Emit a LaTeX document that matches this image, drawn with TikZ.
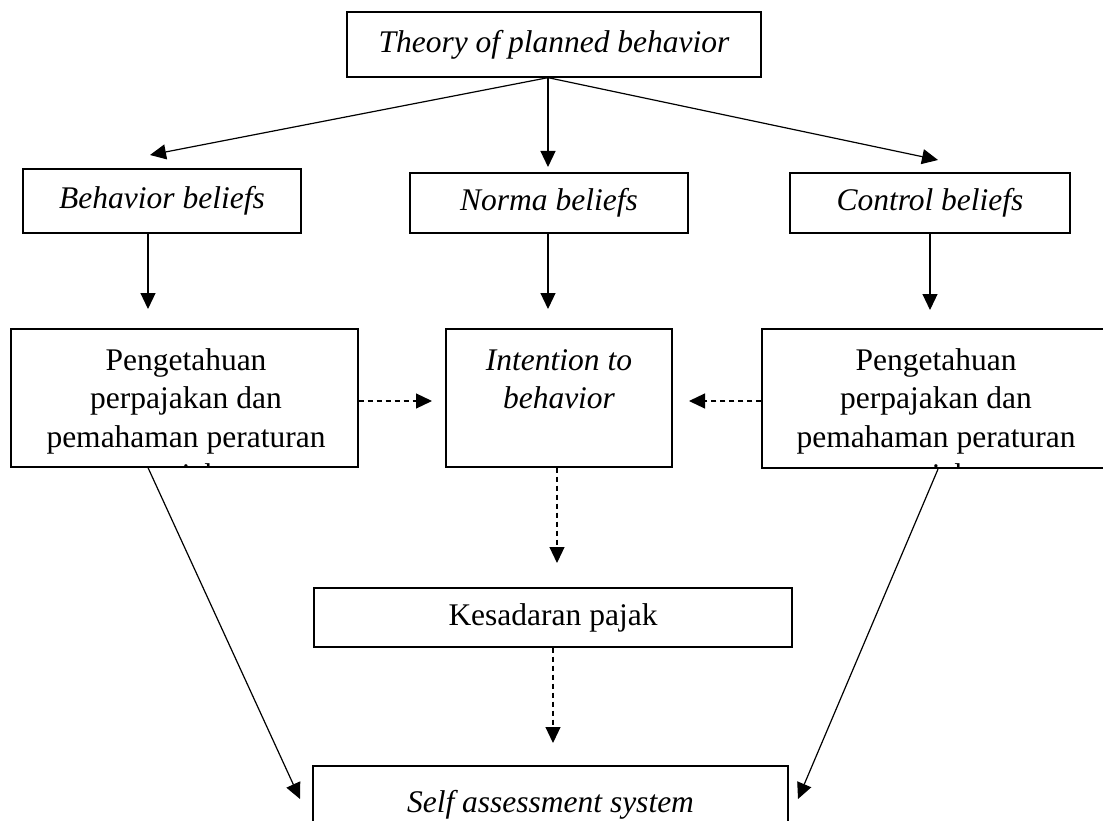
\documentclass[tikz,border=0pt]{standalone}
\usepackage{fontspec}
\setmainfont{Liberation Serif}
\usetikzlibrary{arrows.meta}
\begin{document}
\begin{tikzpicture}[x=1pt,y=-1pt,
  lbl/.style={inner sep=0pt, font=\fontsize{31.5}{38.5}\selectfont, align=center},
  ilbl/.style={lbl, font=\fontsize{31.5}{38.5}\selectfont\itshape},
  box/.style={draw, line width=1.3pt, inner sep=0pt, rectangle},
  arr/.style={line width=1.2pt, -{Triangle[length=16pt,width=15pt]}},
  darr/.style={arr, dash pattern=on 5pt off 4pt}]
\clip (0,0) rectangle (1103,821);
% boxes
\node[box, ilbl, minimum width=414pt, minimum height=65pt] (top) at (554,44.5) {Theory of planned behavior};
\node[box, ilbl, minimum width=278pt, minimum height=64pt] (bb) at (162,201) {Behavior beliefs};
\node[box, ilbl, minimum width=278pt, minimum height=60pt] (nb) at (549,203) {Norma beliefs};
\node[box, ilbl, minimum width=280pt, minimum height=60pt] (cb) at (930,203) {Control beliefs};
\node[box, minimum width=347pt, minimum height=138pt] (pl) at (184.5,398) {};
\node[box, minimum width=226pt, minimum height=138pt] (ib) at (559,398) {};
\node[box, minimum width=348pt, minimum height=139pt] (pr) at (936,398.5) {};
\node[box, lbl, minimum width=478pt, minimum height=59pt] (kp) at (553,617.5) {Kesadaran pajak};
\node[box, ilbl, minimum width=475pt, minimum height=78pt] (sa) at (550.5,805) {Self assessment system};
% texts of tall boxes
\begin{scope}
\clip (pl.south west) rectangle (pl.north east);
\node[lbl, anchor=north] (plt) at (186,348) {Pengetahuan\\perpajakan dan\\pemahaman peraturan\\pajak};
\end{scope}
\begin{scope}
\clip (pr.south west) rectangle (pr.north east);
\node[lbl, anchor=north] (prt) at (936,348) {Pengetahuan\\perpajakan dan\\pemahaman peraturan\\pajak};
\end{scope}
\node[ilbl, anchor=north] (ibt) at (559,349) {Intention to\\behavior};
% arrow tip coordinates
\coordinate (tb) at (150,155);
\coordinate (tn) at (548,167);
\coordinate (tc) at (938,160);
\coordinate (pbl) at (148,309);
\coordinate (pbm) at (548,309);
\coordinate (pbr) at (930,310);
\coordinate (dl) at (432,401);
\coordinate (dr) at (689,401);
\coordinate (dk) at (557,563);
\coordinate (ds) at (553,743);
\coordinate (sl) at (300,799);
\coordinate (sr) at (798,799);
% connectors
\draw[arr] ([xshift=-6pt]top.south) -- (tb);
\draw[arr] ([xshift=-6pt]top.south) -- (tn);
\draw[arr] ([xshift=-6pt]top.south) -- (tc);
\draw[arr] ([xshift=-14pt]bb.south) -- (pbl);
\draw[arr] ([xshift=-1pt]nb.south) -- (pbm);
\draw[arr] (cb.south) -- (pbr);
\draw[darr] ([yshift=-3pt]pl.east) -- (dl);
\draw[darr] ([yshift=-2.5pt]pr.west) -- (dr);
\draw[darr] ([xshift=-2pt]ib.south) -- (dk);
\draw[darr] (kp.south) -- (ds);
\draw[arr] ([xshift=-36.5pt]pl.south) -- (sl);
\draw[arr] ([xshift=2pt,yshift=-0.5pt]pr.south) -- (sr);
\end{tikzpicture}
\end{document}
